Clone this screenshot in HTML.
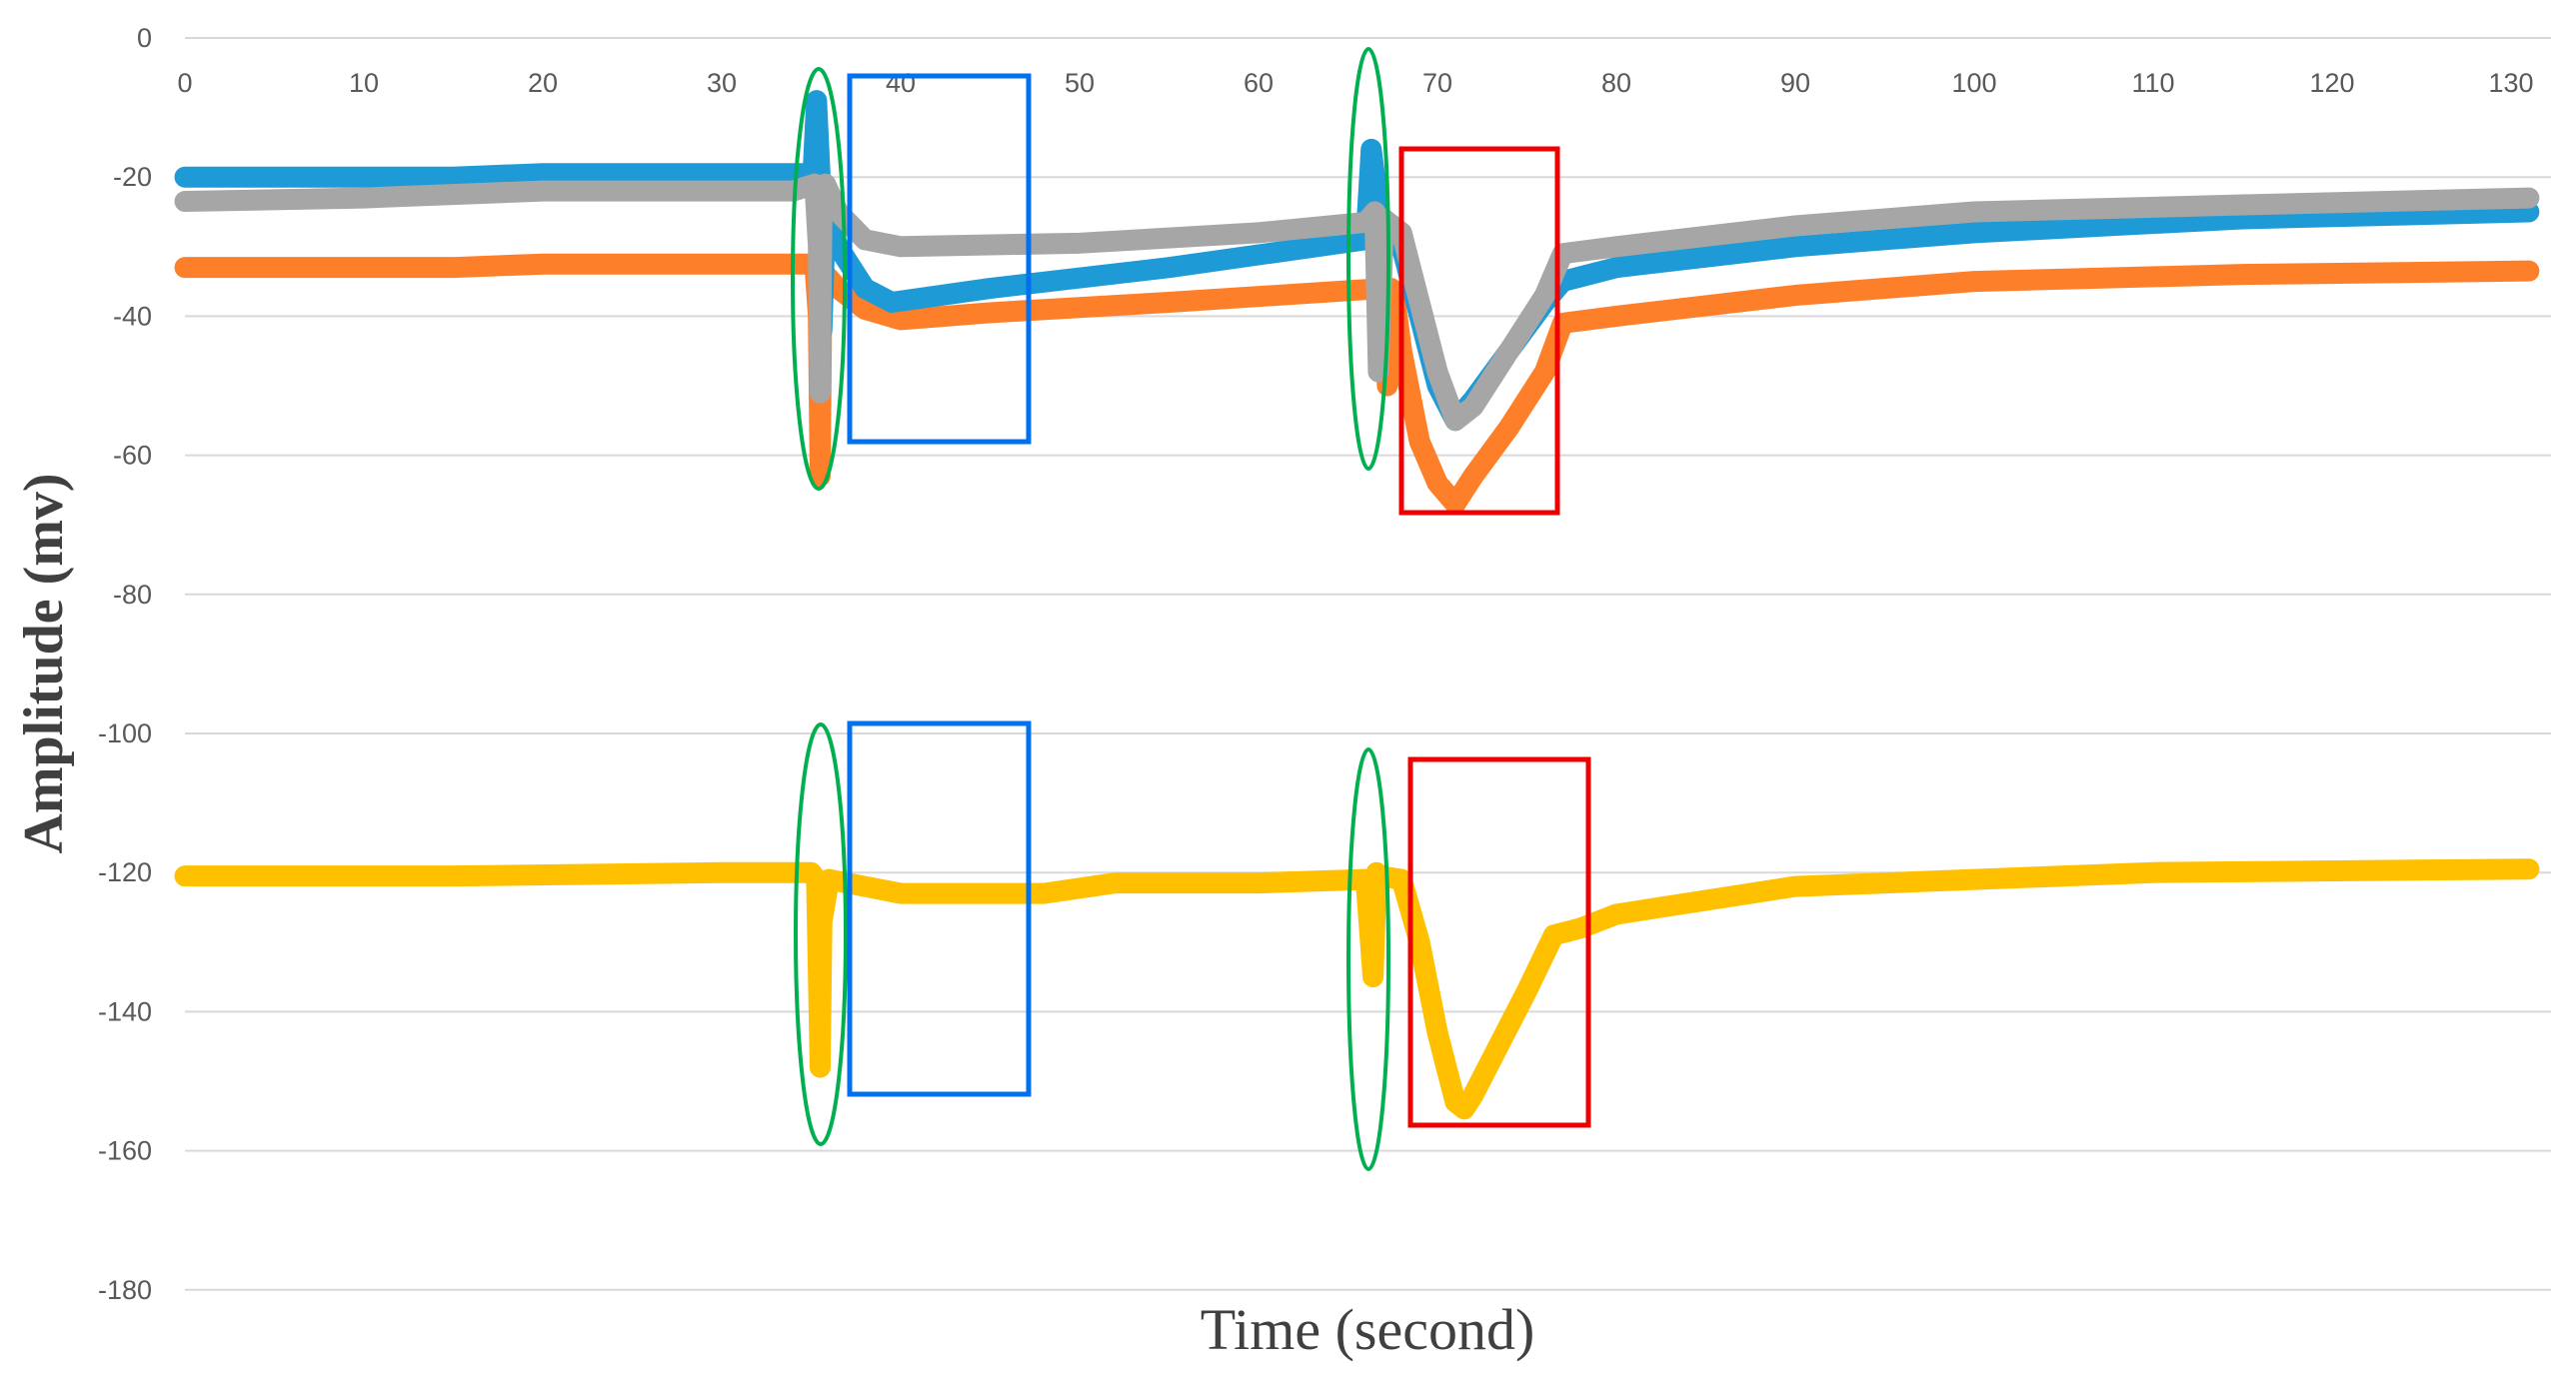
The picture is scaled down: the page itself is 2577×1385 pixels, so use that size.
<!DOCTYPE html>
<html><head><meta charset="utf-8">
<style>
body{margin:0;background:#fff;}
svg{display:block;}
.tick{font-family:"Liberation Sans",sans-serif;font-size:27px;fill:#595959;}
</style></head>
<body>
<svg id="chart" width="2577" height="1385" viewBox="0 0 2577 1385">
<g id="grid"></g>
<g id="ylabels"></g>
<g id="xlabels"></g>
<g id="series"></g>
<g id="annot" fill="none" transform="translate(-5,0)">
<ellipse cx="824" cy="279" rx="26" ry="210" stroke="#00b050" stroke-width="4"/>
<rect x="855" y="76" width="179" height="366" stroke="#0070f0" stroke-width="5"/>
<ellipse cx="1374" cy="259" rx="20" ry="210" stroke="#00b050" stroke-width="4"/>
<rect x="1407" y="149" width="156" height="364" stroke="#ee0000" stroke-width="5"/>
<ellipse cx="826" cy="935" rx="25" ry="210" stroke="#00b050" stroke-width="4"/>
<rect x="855" y="724" width="179" height="371" stroke="#0070f0" stroke-width="5"/>
<ellipse cx="1374" cy="960" rx="20" ry="210" stroke="#00b050" stroke-width="4"/>
<rect x="1416" y="760" width="178" height="366" stroke="#ee0000" stroke-width="5"/>
</g>
<text x="1368" y="1350" text-anchor="middle" font-family="Liberation Serif,serif" font-size="58" fill="#404040">Time (second)</text>
<text x="0" y="0" transform="translate(62,664) rotate(-90)" text-anchor="middle" font-family="Liberation Serif,serif" font-weight="bold" font-size="56" fill="#404040">Amplitude (mv)</text>
</svg>
<script>
const yTicks=[0,-20,-40,-60,-80,-100,-120,-140,-160,-180];
const xTicks=[0,10,20,30,40,50,60,70,80,90,100,110,120,130];
const tBlue=[0,15,20,34,35.1,35.3,35.5,35.6,35.8,36.5,38,39.5,45,55,66,66.3,66.5,66.7,67,68,69,70,71,72,74,76,77,80,90,100,115,131];
const vBlue=[-20,-20,-19.5,-19.5,-19.5,-9,-20,-42,-25,-30,-36,-38,-36,-33,-29,-16,-20,-27,-28,-30,-40,-50,-55,-52,-45,-38,-35,-33,-30,-28,-26,-25];
const tGray=[0,10,20,34,35.2,35.4,35.5,35.6,35.8,36.5,38,40,50,60,66,66.5,66.7,67,68,69,70,71,72,74,76,77,80,90,100,115,131];
const vGray=[-23.5,-23,-22,-22,-21,-30,-51,-25,-21,-25,-29,-30,-29.5,-28,-26.5,-25,-48,-26,-28,-38,-48,-55,-53,-45,-37,-31,-30,-27,-25,-24,-23];
const tOrange=[0,15,20,34,35.2,35.4,35.5,35.6,35.8,36.5,38,40,45,55,67,67.2,67.4,67.6,68,69,70,71,72,74,76,77,80,90,100,115,131];
const vOrange=[-33,-33,-32.5,-32.5,-32.5,-40,-63,-35,-34,-36,-39,-40.5,-39.5,-38,-36,-50,-36,-37,-45,-58,-64,-67,-63,-56,-48,-41,-40,-37,-35,-34,-33.5];
const tYellow=[0,15,30,35,35.3,35.5,35.6,36,38,40,48,52,60,66,66.4,66.6,66.8,68,69,70,71,71.5,72,74,75,76.5,78,80,85,90,100,110,131];
const vYellow=[-120.5,-120.5,-120,-120,-121,-148,-127,-121,-122,-123,-123,-121.5,-121.5,-121,-135,-120,-120.5,-121,-130,-143,-153,-154,-152,-142,-137,-129,-128,-126,-124,-122,-121,-120,-119.5];
const X=t=>185+t*17.9, Y=v=>38-v*6.96;
const NS='http://www.w3.org/2000/svg';
const g=document.getElementById('grid'),yl=document.getElementById('ylabels'),xl=document.getElementById('xlabels'),sg=document.getElementById('series');
yTicks.forEach(v=>{
 const l=document.createElementNS(NS,'line');
 
 
 l.setAttribute('x1',185);l.setAttribute('x2',2552);l.setAttribute('y1',Y(v));l.setAttribute('y2',Y(v));
 l.setAttribute('stroke','#d9d9d9');l.setAttribute('stroke-width','2');g.appendChild(l);
 const t=document.createElementNS(NS,'text');
 
 
 t.setAttribute('x',152);t.setAttribute('y',Y(v)+9);t.setAttribute('text-anchor','end');t.setAttribute('class','tick');
 t.textContent=v;yl.appendChild(t);
});
xTicks.forEach(v=>{
 const t=document.createElementNS(NS,'text');
 
 
 t.setAttribute('x',X(v));t.setAttribute('y',92);t.setAttribute('text-anchor','middle');t.setAttribute('class','tick');
 t.textContent=v;xl.appendChild(t);
});
function draw(ts,vs,color,name){
 const p=document.createElementNS(NS,'polyline');
 
 
 p.setAttribute('points',ts.map((t,i)=>X(t)+','+Y(vs[i])).join(' '));
 p.setAttribute('fill','none');p.setAttribute('stroke',color);p.setAttribute('stroke-width','21');
 p.setAttribute('stroke-linejoin','round');p.setAttribute('stroke-linecap','round');
 sg.appendChild(p);
 ts.forEach((t,i)=>{
  const c=document.createElementNS(NS,'circle');
  
  
  c.setAttribute('cx',X(t));c.setAttribute('cy',Y(vs[i]));c.setAttribute('r',10);c.setAttribute('fill',color);
  sg.appendChild(c);
 });
}
draw(tOrange,vOrange,'#fe7f2a','series-orange');
draw(tBlue,vBlue,'#1e9bd7','series-blue');
draw(tGray,vGray,'#a6a6a6','series-gray');
draw(tYellow,vYellow,'#ffc000','series-yellow');
</script>
</body></html>
